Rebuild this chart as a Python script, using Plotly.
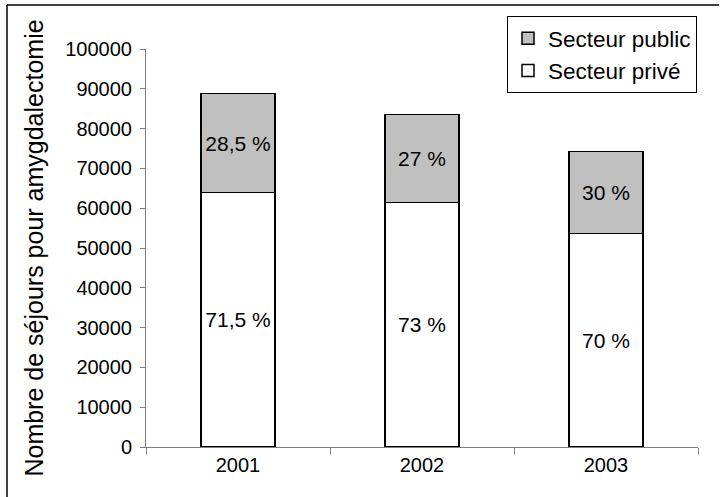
import plotly.graph_objects as go

years = ["2001", "2002", "2003"]
prive = [63900, 61400, 53700]
public = [24900, 22100, 20500]
prive_labels = ["71,5 %", "73 %", "70 %"]
public_labels = ["28,5 %", "27 %", "30 %"]

FONT = "Liberation Sans, Arial, sans-serif"
W, H = 722, 497
ML, MR, MT, MB = 146, 24, 49, 50
PW, PH = W - ML - MR, H - MT - MB

def px_to_paper_x(px):
    return (px - ML) / PW

def px_to_paper_y(py):
    return (H - MB - py) / PH

fig = go.Figure()
fig.add_trace(go.Bar(
    x=years, y=prive, name="Secteur privé", legendgroup="prive",
    marker=dict(color="white", line=dict(color="black", width=1.5)),
    text=prive_labels, textposition="inside", insidetextanchor="middle",
    constraintext="none", textangle=0,
    textfont=dict(family=FONT, size=21, color="black"),
    width=0.4, hoverinfo="skip",
))
fig.add_trace(go.Bar(
    x=years, y=public, name="Secteur public", legendgroup="public",
    marker=dict(color="#C0C0C0", line=dict(color="black", width=1.5)),
    text=public_labels, textposition="inside", insidetextanchor="middle",
    constraintext="none", textangle=0,
    textfont=dict(family=FONT, size=21, color="black"),
    width=0.4, hoverinfo="skip",
))

fig.update_layout(
    width=W, height=H,
    margin=dict(l=ML, r=MR, t=MT, b=MB, autoexpand=False),
    barmode="stack",
    paper_bgcolor="white", plot_bgcolor="white",
    font=dict(family=FONT, size=20, color="black"),
    showlegend=True,
    legend=dict(
        traceorder="reversed", tracegroupgap=7,
        x=px_to_paper_x(507), y=px_to_paper_y(16),
        xanchor="left", yanchor="top",
        bgcolor="white", bordercolor="black", borderwidth=1,
        font=dict(family=FONT, size=22.5, color="black"),
    ),
    xaxis=dict(
        type="category", showline=True, linecolor="#808080", linewidth=1,
        ticks="outside", ticklen=6, tickcolor="#808080", tickson="boundaries",
        showgrid=False, zeroline=False,
        tickfont=dict(family=FONT, size=20, color="black"),
    ),
    yaxis=dict(
        range=[0, 100000], dtick=10000, tickformat="d",
        showline=True, linecolor="#808080", linewidth=1,
        ticks="outside", ticklen=5, tickcolor="#808080",
        ticklabelstandoff=4,
        showgrid=False, zeroline=False,
        tickfont=dict(family=FONT, size=20, color="black"),
        title=dict(text="Nombre de séjours pour amygdalectomie",
                   font=dict(family=FONT, size=25, color="black"), standoff=14),
    ),
    shapes=[
        dict(type="line", xref="paper", yref="paper",
             x0=px_to_paper_x(7), x1=px_to_paper_x(7),
             y0=px_to_paper_y(5), y1=px_to_paper_y(H + 20),
             line=dict(color="black", width=1.5)),
        dict(type="line", xref="paper", yref="paper",
             x0=px_to_paper_x(7), x1=px_to_paper_x(719),
             y0=px_to_paper_y(5), y1=px_to_paper_y(5),
             line=dict(color="black", width=1.5)),
    ],
)

fig.write_html("out.html")
